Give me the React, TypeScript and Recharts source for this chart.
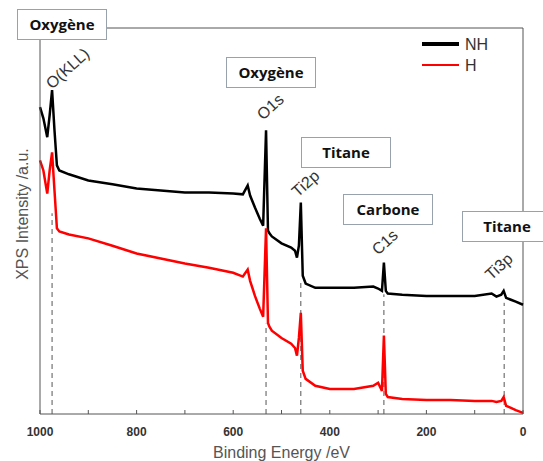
import React from "react";
import { LineChart, Line, XAxis, YAxis, ReferenceLine, ReferenceDot } from "recharts";

// binding energy grid (eV)
const energy = [
  1000, 993, 985, 980, 975, 970, 965, 960, 940, 900, 850, 800, 750, 700, 650, 600, 580, 570, 565,
  555, 545, 538, 532, 528, 525, 520, 500, 480, 472, 468, 464, 460, 456, 450, 430, 400, 350, 310,
  300, 292, 288, 284, 280, 250, 200, 150, 100, 65, 55, 45, 40, 35, 25, 15, 0,
];

// non hydrogenated sample
const nhIntensity = [
  79.5, 76.6, 71.7, 77.4, 83.9, 73.5, 64.4, 63.1, 62.1, 60.5, 59.5, 58.4, 57.9, 57.4, 57.4, 57.1,
  56.9, 59.2, 56.6, 53.5, 50.6, 48.8, 73.5, 47.5, 46.8, 46.0, 44.2, 43.1, 42.3, 40.5, 43.6, 54.8,
  35.8, 33.8, 32.7, 32.7, 32.7, 33.0, 32.5, 31.9, 39.2, 31.9, 31.2, 30.9, 30.6, 30.6, 30.6, 31.2,
  30.4, 30.9, 31.9, 30.1, 29.6, 29.1, 28.3,
];

// hydrogenated sample
const hIntensity = [
  65.7, 63.1, 57.1, 63.1, 67.8, 57.9, 48.1, 47.3, 46.5, 45.5, 43.6, 41.6, 40.3, 39.0, 37.9, 36.6,
  35.6, 37.4, 34.5, 30.6, 27.3, 25.2, 48.1, 23.6, 22.6, 21.6, 19.7, 18.2, 17.1, 15.1, 19.7, 26.2,
  11.2, 9.1, 7.3, 6.5, 6.5, 7.3, 8.1, 6.0, 20.3, 5.2, 4.4, 3.9, 3.6, 3.6, 3.4, 3.4, 3.1, 3.4, 4.4,
  2.1, 1.6, 1.0, 0.3,
];

const seriesNames = ["NH", "H"];
const seriesColors = ["#000000", "#ff0000"];

// peak markers: energy, label, label anchor height, dashed line top
const peakEnergy = [975, 532, 460, 288, 39];
const peakName = ["O(KLL)", "O1s", "Ti2p", "C1s", "Ti3p"];
const peakLabelAt = [84.0, 76.0, 56.0, 41.0, 34.5];
const peakLabelDx = [0, -3, -3, -6, -13];
const peakLineTop = [52, 23.4, 34.5, 31, 28.8];

const xTicks = [0, 100, 200, 300, 400, 500, 600, 700, 800, 900, 1000];

// element boxes
const boxText = ["Oxygène", "Oxygène", "Titane", "Carbone", "Titane"];
const boxPos = [
  [17, 9],
  [226, 57],
  [301, 137],
  [343, 194],
  [462, 211],
];

const data = energy.map((e, i) => ({ e, NH: nhIntensity[i], H: hIntensity[i] }));

const XTick = (props: any) => {
  const { x, y, payload } = props;
  const major = payload.value % 200 === 0;
  return (
    <g>
      <line x1={x} x2={x} y1={y - 4} y2={y} stroke="#555" />
      {major && (
        <text x={x} y={y} dy={22} textAnchor="middle" fontSize={12} fontWeight="bold" fill="#333">
          {payload.value}
        </text>
      )}
    </g>
  );
};

const PeakLabel = (name: string, dx: number) => (props: any) => {
  const vb = props.viewBox || {};
  const x = (vb.x || 0) + dx;
  const y = vb.y || 0;
  return (
    <text x={x} y={y} fontSize={16} fill="#333" transform={`rotate(-42 ${x} ${y})`}>
      {name}
    </text>
  );
};

export default function App() {
  return (
    <div
      style={{
        position: "absolute",
        left: 0,
        top: 0,
        width: 543,
        height: 461,
        overflow: "hidden",
        background: "#fff",
        fontFamily: "'Liberation Sans', Arial, sans-serif",
      }}
    >
      <LineChart width={543} height={461} data={data} margin={{ top: 28, right: 20, left: 0, bottom: 0 }}>
        <XAxis
          dataKey="e"
          type="number"
          domain={[0, 1000]}
          reversed
          ticks={xTicks}
          interval={0}
          height={47}
          tick={<XTick />}
          tickLine={false}
          tickSize={0}
          tickMargin={0}
          stroke="#555"
          label={{ value: "Binding Energy /eV", position: "insideBottom", offset: 3, fontSize: 16, fill: "#555" }}
        />
        <YAxis
          type="number"
          domain={[0, 100]}
          width={40}
          tick={false}
          tickLine={false}
          stroke="#555"
          label={{ value: "XPS Intensity /a.u.", angle: -90, position: "center", dx: 2, dy: -7, fontSize: 16, fill: "#555" }}
        />
        <ReferenceLine y={100} stroke="#555" />
        <ReferenceLine x={0} stroke="#555" />
        {peakEnergy.map((p, i) => (
          <ReferenceLine
            key={"d" + i}
            segment={[
              { x: p, y: 0 },
              { x: p, y: peakLineTop[i] },
            ]}
            stroke="#555"
            strokeDasharray="5 4"
          />
        ))}
        <Line dataKey="NH" stroke={seriesColors[0]} strokeWidth={2.5} dot={false} isAnimationActive={false} />
        <Line dataKey="H" stroke={seriesColors[1]} strokeWidth={2.5} dot={false} isAnimationActive={false} />
        {peakEnergy.map((p, i) => (
          <ReferenceDot
            key={"l" + i}
            x={p}
            y={peakLabelAt[i]}
            r={0}
            fill="none"
            stroke="none"
            label={PeakLabel(peakName[i], peakLabelDx[i])}
          />
        ))}
      </LineChart>
      <svg style={{ position: "absolute", left: 420, top: 34 }} width={90} height={42}>
        {seriesNames.map((n, i) => (
          <g key={n}>
            <line
              x1={2}
              x2={39}
              y1={10 + i * 21}
              y2={10 + i * 21}
              stroke={seriesColors[i]}
              strokeWidth={i === 0 ? 4 : 2}
            />
            <text x={45} y={16 + i * 21} fontSize={16} fill="#333" fontFamily="'Liberation Sans', Arial, sans-serif">
              {n}
            </text>
          </g>
        ))}
      </svg>
      {boxText.map((t, i) => (
        <div
          key={"b" + i}
          style={{
            position: "absolute",
            left: boxPos[i][0],
            top: boxPos[i][1],
            width: 88,
            height: 29,
            border: "1px solid #98a2ad",
            background: "#fff",
            fontFamily: "'Open Sans', sans-serif",
            fontWeight: "bold",
            fontSize: 15,
            lineHeight: "29px",
            textAlign: "center",
            color: "#111",
          }}
        >
          {t}
        </div>
      ))}
    </div>
  );
}
